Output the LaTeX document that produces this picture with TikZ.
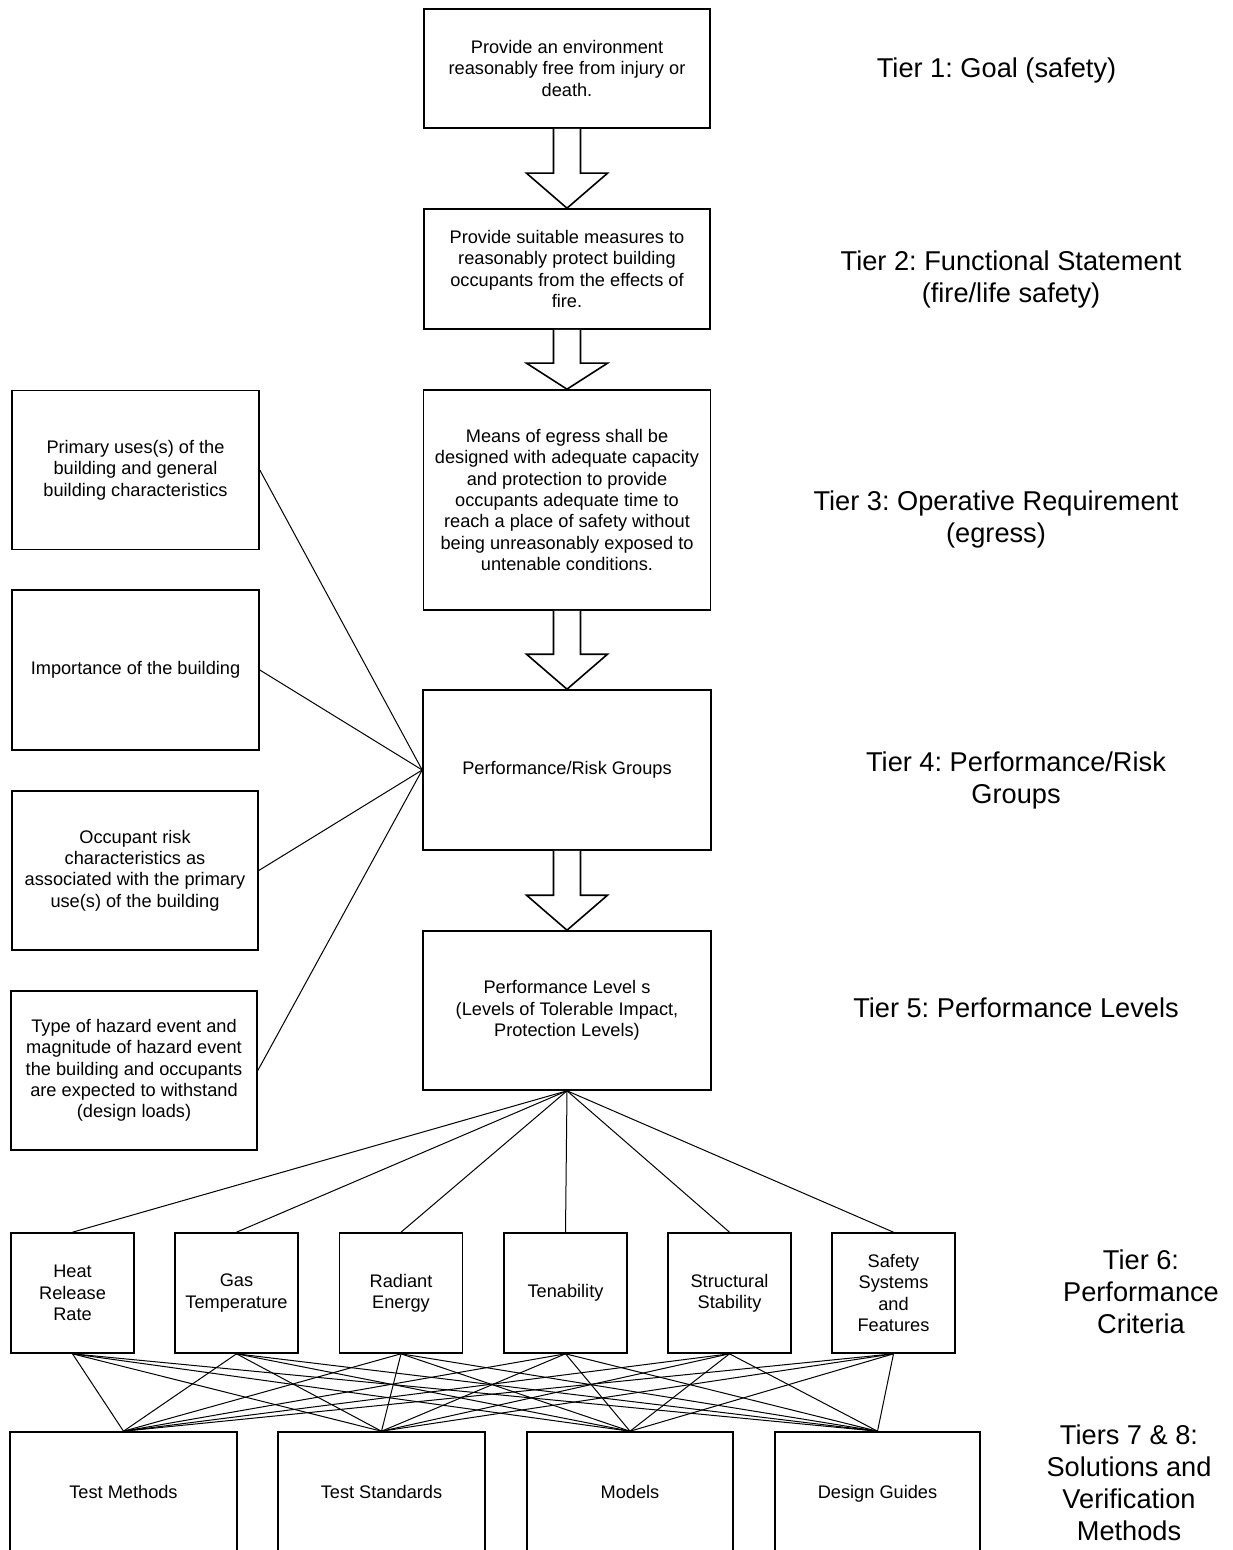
\documentclass[tikz,border=0pt]{standalone}
\usepackage{fontspec}
\setmainfont{Liberation Sans}
\frenchspacing
\usetikzlibrary{calc}

\begin{document}
\begin{tikzpicture}[x=0.5pt,y=-0.5pt,
    box/.style={draw,line width=0.8pt,align=center,inner sep=0pt,
      font=\fontsize{9.1}{10.65}\selectfont},
    tier/.style={align=center,font=\fontsize{13.6}{16}\selectfont},
    link/.style={line width=0.5pt}]
    \useasboundingbox (0,0) rectangle (1232,1550);
    \node (goal) at (567,68.5) [box,minimum width=143pt,minimum height=59.5pt]
      {Provide an environment\\reasonably free from injury or\\death.};
    \node (func) at (567,269) [box,minimum width=143pt,minimum height=60pt]
      {Provide suitable measures to\\reasonably protect building\\occupants from the effects of\\fire.};
    \node (oper) at (567,500) [box,minimum width=143.5pt,minimum height=110pt]
      {Means of egress shall be\\designed with adequate capacity\\and protection to provide\\occupants adequate time to\\reach a place of safety without\\being unreasonably exposed to\\untenable conditions.};
    \node (risk) at (567,770) [box,minimum width=144pt,minimum height=80pt]
      {Performance/Risk Groups};
    \node (level) at (567,1010.5) [box,minimum width=144pt,minimum height=79.5pt]
      {Performance Level s\\(Levels of Tolerable Impact,\\Protection Levels)};
    \foreach \a/\b/\h in {goal/func/35, func/oper/26, oper/risk/35, risk/level/35}
      \draw[line width=0.8pt,fill=white] ($(\a.south)+(-13.5,0)$) -- ($(\b.north)+(-13.5,-\h)$)
        -- ($(\b.north)+(-40.5,-\h)$) -- (\b.north) -- ($(\b.north)+(40.5,-\h)$)
        -- ($(\b.north)+(13.5,-\h)$) -- ($(\a.south)+(13.5,0)$);

    \node (use) at (135.5,470) [box,minimum width=123.5pt,minimum height=79.5pt]
      {Primary uses(s) of the\\building and general\\building characteristics};
    \node (imp) at (135.5,670) [box,minimum width=123.5pt,minimum height=80pt]
      {Importance of the building};
    \node (occ) at (135,870.5) [box,minimum width=123pt,minimum height=79.5pt]
      {Occupant risk\\characteristics as\\associated with the primary\\use(s) of the building};
    \node (haz) at (134,1070.5) [box,minimum width=123pt,minimum height=79.5pt]
      {Type of hazard event and\\magnitude of hazard event\\the building and occupants\\are expected to withstand\\(design loads)};
    \foreach \n in {use,imp,occ,haz}
      \draw[link] (\n.east) -- (risk.west);

    \foreach \i/\x/\txt in {1/72.5/Heat\\Release\\Rate, 2/236.5/Gas\\Temperature,
        3/401/Radiant\\Energy, 4/565.5/Tenability, 5/729.5/Structural\\Stability,
        6/893.5/Safety\\Systems\\and\\Features}
      \node (c\i) at (\x,1293) [box,minimum width=61.5pt,minimum height=60pt] {\txt};
    \foreach \j/\x/\w/\txt in {1/123.5/113.5/Test Methods, 2/381.5/103.5/Test Standards,
        3/630/103/Models, 4/877.5/102.5/Design Guides}
      \node (m\j) at (\x,1493) [box,minimum width=\w pt,minimum height=61pt,
        text height=7pt,text depth=2pt] {\txt};
    \foreach \i in {1,...,6}
    {
      \draw[link] (level.south) -- (c\i.north);
      \foreach \j in {1,...,4}
        \draw[link] (c\i.south) -- (m\j.north);
    }

    \node (t1) at (996.5,70) [tier] {Tier 1: Goal (safety)};
    \node (t2) at (1011,279) [tier] {Tier 2: Functional Statement\\(fire/life safety)};
    \node (t3) at (996,519) [tier] {Tier 3: Operative Requirement\\(egress)};
    \node (t4) at (1016,780) [tier] {Tier 4: Performance/Risk\\Groups};
    \node (t5) at (1016,1008) [tier] {Tier 5: Performance Levels};
    \node (t6) at (1141,1292) [tier] {Tier 6:\\Performance\\Criteria};
    \node (t7) at (1129,1483) [tier] {Tiers 7 \& 8:\\Solutions and\\Verification\\Methods};
  \end{tikzpicture}
\end{document}
